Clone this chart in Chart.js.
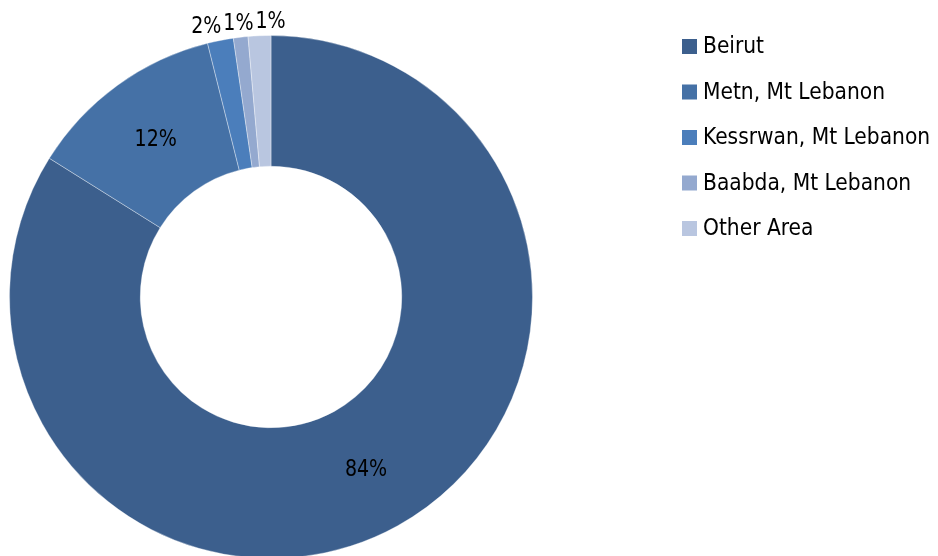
<!DOCTYPE html>
<html>
<head>
<meta charset="utf-8">
<title>Distribution by area</title>
<script src="https://cdn.jsdelivr.net/npm/chart.js@4/dist/chart.umd.min.js"></script>
<style>
  html, body { margin: 0; padding: 0; background: #fff; overflow: hidden; }
  #wrap { width: 938px; height: 560px; }
  canvas { display: block; }
</style>
</head>
<body>
<div id="wrap"><canvas id="c" width="938" height="560"></canvas></div>
<script>
// Area names and their share of the total (percent)
const categories = ['Beirut', 'Metn, Mt Lebanon', 'Kessrwan, Mt Lebanon', 'Baabda, Mt Lebanon', 'Other Area'];
const shares = [83.9, 12.2, 1.6, 0.9, 1.4];
const sliceColors = ['#3C5F8D', '#4571A6', '#4B7EBB', '#94A9CF', '#B9C6E0'];

const LABEL_FONT = '23.5px "DejaVu Sans Condensed", "Liberation Sans", sans-serif';
const LABEL_SQUEEZE = 0.9;
const LEGEND_FONT = '22.5px "DejaVu Sans Condensed", "Liberation Sans", sans-serif';

// Percentage labels: inside the ring for large slices, just outside for thin ones
const sliceLabels = {
  id: 'sliceLabels',
  afterDatasetsDraw(chart) {
    const ctx = chart.ctx;
    const meta = chart.getDatasetMeta(0);
    const values = chart.data.datasets[0].data;
    const total = values.reduce((a, b) => a + b, 0);
    ctx.save();
    ctx.font = LABEL_FONT;
    ctx.fillStyle = '#000';
    ctx.textAlign = 'center';
    ctx.textBaseline = 'middle';
    const placed = [];
    const outside = [];
    meta.data.forEach((arc, i) => {
      const p = arc.getProps(['x', 'y', 'startAngle', 'endAngle', 'innerRadius', 'outerRadius'], true);
      const pct = values[i] / total * 100;
      const text = Math.round(pct) + '%';
      const mid = (p.startAngle + p.endAngle) / 2;
      const w = ctx.measureText(text).width * LABEL_SQUEEZE;
      if (pct >= 5) {
        const r = (p.innerRadius + p.outerRadius) / 2;
        placed.push({ text, x: p.x + Math.cos(mid) * r, y: p.y + Math.sin(mid) * r });
      } else {
        const r = p.outerRadius + 15;
        outside.push({ text, w, x: p.x + Math.cos(mid) * r, y: p.y + Math.sin(mid) * r });
      }
    });
    // spread neighbouring outside labels apart until none overlap
    outside.sort((a, b) => a.x - b.x);
    for (let pass = 0; pass < 60; pass++) {
      let moved = false;
      for (let k = 1; k < outside.length; k++) {
        const a = outside[k - 1], b = outside[k];
        const need = a.w / 2 + b.w / 2 + 2;
        const gap = b.x - a.x;
        if (gap < need - 0.01) {
          const push = (need - gap) / 2;
          a.x -= push;
          b.x += push;
          moved = true;
        }
      }
      if (!moved) break;
    }
    placed.concat(outside).forEach(l => {
      ctx.save();
      ctx.translate(l.x, l.y + 1.5);
      ctx.scale(LABEL_SQUEEZE, 1);
      ctx.fillText(l.text, 0, 0);
      ctx.restore();
    });
    ctx.restore();
  }
};

// Legend column to the right of the ring
const sideLegend = {
  id: 'sideLegend',
  afterDraw(chart) {
    const ctx = chart.ctx;
    const ds = chart.data.datasets[0];
    const left = 682, top = 46.5, step = 45.5, box = 15;
    ctx.save();
    ctx.font = LEGEND_FONT;
    ctx.textBaseline = 'middle';
    ctx.textAlign = 'left';
    chart.data.labels.forEach((name, i) => {
      const cy = top + i * step;
      ctx.fillStyle = ds.backgroundColor[i];
      ctx.fillRect(left, cy - box / 2, box, box);
      ctx.fillStyle = '#000';
      ctx.fillText(name, left + box + 6, cy + 1);
    });
    ctx.restore();
  }
};

new Chart(document.getElementById('c'), {
  type: 'doughnut',
  data: {
    labels: categories,
    datasets: [{
      data: shares,
      backgroundColor: sliceColors,
      borderColor: 'rgba(255,255,255,0.35)',
      borderWidth: 1
    }]
  },
  options: {
    responsive: false,
    animation: false,
    cutout: '50%',
    layout: { padding: { left: 9, top: 35, right: 405, bottom: 1 } },
    plugins: {
      legend: { display: false },
      tooltip: { enabled: false }
    }
  },
  plugins: [sliceLabels, sideLegend]
});
</script>
</body>
</html>
